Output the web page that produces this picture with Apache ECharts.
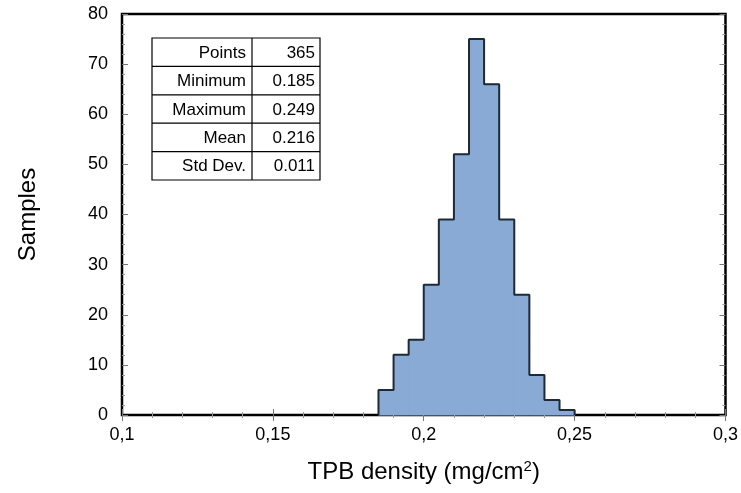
<!DOCTYPE html>
<html>
<head>
<meta charset="utf-8">
<script src="https://cdn.jsdelivr.net/npm/echarts@6/dist/echarts.min.js"></script>
<style>html,body{margin:0;padding:0;background:#fff}#c{width:741px;height:493px}</style>
</head>
<body>
<div id="c"></div>
<script>
var binStarts = [0.185,0.19,0.195,0.2,0.205,0.21,0.215,0.22,0.225,0.23,0.235,0.24,0.245];
var binWidth = 0.005;
var counts = [5,12,15,26,39,52,75,66,39,24,8,3,1];
var xTickLabels = ['0,1','0,15','0,2','0,25','0,3'];
var yTickLabels = ['0','10','20','30','40','50','60','70','80'];
var statNames = ['Points','Minimum','Maximum','Mean','Std Dev.'];
var statValues = ['365','0.185','0.249','0.216','0.011'];

var FONT = 'Liberation Sans, Arial, sans-serif';
var barData = binStarts.map(function(s,i){return [s, s+binWidth, counts[i]];});
var outline = [];
binStarts.forEach(function(s,i){
  var prev = i===0 ? 0 : counts[i-1];
  outline.push([s, prev]);
  outline.push([s, counts[i]]);
});
var lastEnd = binStarts[binStarts.length-1]+binWidth;
outline.push([lastEnd, counts[counts.length-1]]);
outline.push([lastEnd, 0]);

// table graphic
var tX = 152, tY = 38, c1 = 100, c2 = 68, rh = 28.4;
var tableEls = [];
tableEls.push({type:'rect', shape:{x:tX,y:tY,width:c1+c2,height:rh*statNames.length}, style:{fill:'#fff',stroke:'#000',lineWidth:1.2}});
tableEls.push({type:'line', shape:{x1:tX+c1,y1:tY,x2:tX+c1,y2:tY+rh*statNames.length}, style:{stroke:'#000',lineWidth:1.2}});
statNames.forEach(function(n,i){
  if(i>0) tableEls.push({type:'line', shape:{x1:tX,y1:tY+rh*i,x2:tX+c1+c2,y2:tY+rh*i}, style:{stroke:'#000',lineWidth:1.2}});
  tableEls.push({type:'text', x:tX+c1-6, y:tY+rh*i+rh/2+1, style:{text:n, fill:'#000', font:'17px '+FONT, align:'right', verticalAlign:'middle'}});
  tableEls.push({type:'text', x:tX+c1+c2-5, y:tY+rh*i+rh/2+1, style:{text:statValues[i], fill:'#000', font:'17px '+FONT, align:'right', verticalAlign:'middle'}});
});

var chart = echarts.init(document.getElementById('c'));
var tickStyle = {show:true, inside:true, length:6, lineStyle:{color:'#777', width:1}};
var minorStyle = {show:true, splitNumber:5, length:3, lineStyle:{color:'#999', width:1}};
chart.setOption({
  animation:false,
  grid:{left:122, right:14, top:14, bottom:78, show:true, borderColor:'#000', borderWidth:2.5, backgroundColor:'transparent'},
  xAxis:[{
    type:'value', min:0.1, max:0.3, interval:0.05, position:'bottom',
    axisLine:{show:false}, splitLine:{show:false},
    axisTick:tickStyle, minorTick:minorStyle,
    axisLabel:{color:'#000', fontSize:18, fontFamily:FONT, margin:11, formatter:function(v,i){return xTickLabels[Math.round((v-0.1)/0.05)];}},
    name:'{a|TPB density (mg/cm}{s|2}{a|)}', nameLocation:'middle', nameGap:44,
    nameTextStyle:{rich:{a:{fontSize:24, fontFamily:FONT, color:'#000'}, s:{fontSize:15, fontFamily:FONT, color:'#000', verticalAlign:'top', padding:[0,0,12,0]}}}
  },{
    type:'value', min:0.1, max:0.3, interval:0.05, position:'top',
    axisLine:{show:false}, splitLine:{show:false}, axisLabel:{show:false},
    axisTick:tickStyle, minorTick:minorStyle
  }],
  yAxis:[{
    type:'value', min:0, max:80, interval:10, position:'left',
    axisLine:{show:false}, splitLine:{show:false},
    axisTick:tickStyle, minorTick:minorStyle,
    axisLabel:{color:'#000', fontSize:18, fontFamily:FONT, margin:14, formatter:function(v){return yTickLabels[Math.round(v/10)];}},
    name:'Samples', nameLocation:'middle', nameGap:82, nameRotate:90,
    nameTextStyle:{fontSize:24, fontFamily:FONT, color:'#000'}
  },{
    type:'value', min:0, max:80, interval:10, position:'right',
    axisLine:{show:false}, splitLine:{show:false}, axisLabel:{show:false},
    axisTick:tickStyle, minorTick:minorStyle
  }],
  series:[{
    type:'custom', xAxisIndex:0, yAxisIndex:0, data:barData, encode:{x:[0,1], y:2},
    renderItem:function(params, api){
      var p0 = api.coord([api.value(0), api.value(2)]);
      var p1 = api.coord([api.value(1), 0]);
      return {type:'rect', shape:{x:p0[0], y:p0[1], width:p1[0]-p0[0], height:p1[1]-p0[1]}, style:{fill:'#88aad5', stroke:'#88aad5', lineWidth:1}};
    }, z:2
  },{
    type:'line', xAxisIndex:0, yAxisIndex:0, data:outline, symbol:'none',
    lineStyle:{color:'#1e2a36', width:2}, z:3
  }],
  graphic:{elements:tableEls}
});
</script>
</body>
</html>
